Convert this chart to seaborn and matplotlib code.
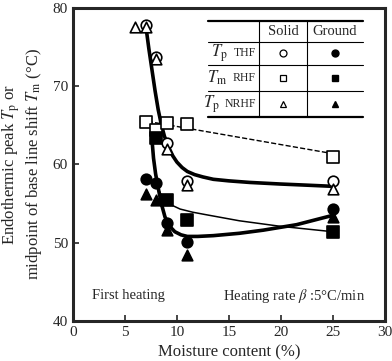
import numpy as np
import pandas as pd
import matplotlib
matplotlib.use("Agg")
import matplotlib.pyplot as plt
import seaborn as sns

# measured points (moisture %, temperature degC)
thf_solid_x = [7, 8, 9, 11, 25]
thf_solid_y = [77.8, 73.7, 62.7, 57.9, 57.9]
rhf_solid_x = [7, 8, 9, 11, 25]
rhf_solid_y = [65.4, 64.4, 65.3, 65.2, 61.0]
nrhf_solid_x = [6, 7, 8, 9, 11, 25]
nrhf_solid_y = [77.6, 77.6, 73.5, 62.0, 57.4, 56.9]

thf_ground_x = [7, 8, 9, 11, 25]
thf_ground_y = [58.2, 57.6, 52.5, 50.1, 54.3]
rhf_ground_x = [8, 9, 11, 25]
rhf_ground_y = [63.4, 55.5, 52.9, 51.4]
nrhf_ground_x = [7, 8, 9, 11, 25]
nrhf_ground_y = [56.2, 55.4, 51.6, 48.4, 53.3]

# trend curves
solid_curve_x = [7.0, 7.3, 7.6, 7.9, 8.2, 8.5, 8.8, 9.2, 9.6, 10.0, 10.5, 11.0, 11.7,
                 12.5, 13.5, 15.0, 17.0, 19.9, 22.5, 25.0]
solid_curve_y = [77.8, 74.8, 72.1, 69.4, 67.0, 65.1, 63.6, 62.2, 61.1, 60.3, 59.6, 59.1, 58.7,
                 58.4, 58.1, 57.9, 57.7, 57.5, 57.35, 57.2]
ground_curve_x = [7.6, 7.75, 7.95, 8.2, 8.5, 8.85, 9.3, 9.8, 10.4, 11.0, 12.0, 13.5,
                  16.0, 18.3, 21.5, 25.0]
ground_curve_y = [63.2, 60.8, 58.8, 57.0, 55.0, 53.3, 52.1, 51.4, 51.0, 50.8, 50.8, 50.9,
                  51.2, 51.6, 52.3, 53.5]
rhf_curve_x = [7.6, 7.7, 7.8, 7.95, 8.1, 8.3, 8.6, 9.0, 9.5, 10.3, 11.5, 12.7, 16.0, 19.9, 25.0]
rhf_curve_y = [63.2, 61.5, 60.0, 58.6, 57.5, 56.6, 55.8, 55.2, 54.8, 54.3, 53.9, 53.6, 52.8, 52.1, 51.4]
rhf_dash_x = [7.2, 24.9]
rhf_dash_y = [65.5, 61.4]

sns.set_style("ticks")
plt.rcParams['font.family'] = ['Liberation Serif', 'DejaVu Serif']
plt.rcParams['mathtext.fontset'] = 'stix'

fig = plt.figure(figsize=(3.92, 3.61), dpi=100)
ax = fig.add_axes([0.186, 0.111, 0.796, 0.867])

def curve(x, y, lw, ls="-"):
    sns.lineplot(x=x, y=y, ax=ax, color="black", lw=lw, ls=ls,
                 sort=False, estimator=None)

curve(solid_curve_x, solid_curve_y, 2.6)
curve(ground_curve_x, ground_curve_y, 2.6)
curve(rhf_curve_x, rhf_curve_y, 1.1)
curve(rhf_dash_x, rhf_dash_y, 1.0, "--")

def pts(x, y, m, filled, s=58):
    sns.scatterplot(x=x, y=y, ax=ax, marker=m, s=s,
                    facecolor="black" if filled else "white",
                    edgecolor="black", linewidth=1.2, zorder=5)

pts(thf_solid_x, thf_solid_y, "o", False)
pts(rhf_solid_x, rhf_solid_y, "s", False, 66)
pts(nrhf_solid_x, nrhf_solid_y, "^", False)
pts(thf_ground_x, thf_ground_y, "o", True)
pts(rhf_ground_x, rhf_ground_y, "s", True, 66)
pts(nrhf_ground_x, nrhf_ground_y, "^", True)

ax.set_xlim(0, 30)
ax.set_ylim(40, 80)
ax.set_xticks(range(0, 31, 5))
ax.set_yticks(range(40, 81, 10))
ax.tick_params(direction="in", length=4, width=1.2, labelsize=11)
for sp in ax.spines.values():
    sp.set_linewidth(2.2)
    sp.set_visible(True)

ax.set_xlabel("Moisture content (%)", fontsize=12)
ax.set_ylabel("Endothermic peak $T_\\mathrm{p}$ or\nmidpoint of base line shift $T_\\mathrm{m}$ (°C)",
              fontsize=12, labelpad=6)

ax.text(1.8, 43.2, "First heating", fontsize=10.5, va="center", ha="left")
ax.text(28.1, 43.2, "Heating rate $\\beta$ :5°C/min", fontsize=10.5, va="center", ha="right")

# legend table
tx0, tx1, tx2, tx3 = 13.0, 17.9, 22.5, 27.9
ty = [78.3, 75.7, 72.7, 69.4, 66.1]
for i, yy in enumerate(ty):
    ax.plot([tx0, tx3], [yy, yy], color="black", lw=1.6 if i in (0, 4) else 0.8)
for xx in (tx1, tx2):
    ax.plot([xx, xx], [ty[0], ty[4]], color="black", lw=0.8)
ax.text((tx1 + tx2) / 2, (ty[0] + ty[1]) / 2, "Solid", ha="center", va="center", fontsize=10.5)
ax.text((tx2 + tx3) / 2, (ty[0] + ty[1]) / 2, "Ground", ha="center", va="center", fontsize=10.5)
row_labels = ["$T_\\mathrm{p}$", "$T_\\mathrm{m}$", "$T_\\mathrm{p}$"]
row_names = ["THF", "RHF", "NRHF"]
row_marks = ["o", "s", "^"]
for k in range(3):
    yc = (ty[k + 1] + ty[k + 2]) / 2
    ax.text(tx1 - 0.3, yc, row_names[k], ha="right", va="center", fontsize=8.5)
    ax.text(tx1 - 0.3 - 0.75 * len(row_names[k]) - 0.5, yc, row_labels[k], ha="right",
            va="center", fontsize=12)
    ax.plot((tx1 + tx2) / 2, yc, marker=row_marks[k], ms=5, mfc="white", mec="black", mew=0.9)
    ax.plot((tx2 + tx3) / 2, yc, marker=row_marks[k], ms=5, mfc="black", mec="black")

fig.savefig("out.png", dpi=100)
